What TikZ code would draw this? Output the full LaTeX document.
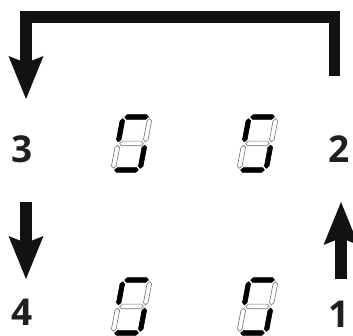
\documentclass[tikz,border=0pt]{standalone}
\usepackage{fontspec}
\setmainfont{Open Sans}
\usetikzlibrary{arrows.meta}
\def\sh{2.3}
\newcommand\hsegment[4]{\path[#1] (#2,#4) -- (#2+\sh,#4+\sh) -- (#3-\sh,#4+\sh) -- (#3,#4) -- (#3-\sh,#4-\sh) -- (#2+\sh,#4-\sh) -- cycle;}
\newcommand\vsegment[4]{\path[#1] (#2,#3) -- (#2+\sh,#3+\sh) -- (#2+\sh,#4-\sh) -- (#2,#4) -- (#2-\sh,#4-\sh) -- (#2-\sh,#3+\sh) -- cycle;}
\newcommand\sevenseg[2]{%
  \begin{scope}[shift={(#1,#2)},xslant=0.19]
    \hsegment{segoff}{1.6}{25.4}{26.5}
    \vsegment{segoff}{27}{28.1}{51.4}
    \vsegment{segoff}{0}{1.6}{24.9}
    \hsegment{segon}{1.6}{25.4}{53}
    \hsegment{segon}{1.6}{25.4}{0}
    \vsegment{segon}{0}{28.1}{51.4}
    \vsegment{segon}{27}{1.6}{24.9}
  \end{scope}}
\tikzset{
  seg/.style={line width=0.6pt, line join=round},
  segon/.style={seg, fill=black, draw=black},
  segoff/.style={seg, fill=white, draw=black!55},
  bigarrow/.style={draw=black!93, line width=11.5pt,
    -{Stealth[length=43pt, width=35pt, inset=7pt, line width=0pt]}},
  numlabel/.style={font=\fontsize{37}{37}\selectfont\bfseries, text=black!88, anchor=base, inner sep=0pt}
}
\begin{document}
\begin{tikzpicture}[x=1pt,y=1pt]
  \useasboundingbox (0,0) rectangle (353,336);
  % labels
  \node[numlabel] (n3) at (22.5,173) {3};
  \node[numlabel] (n2) at (339,173) {2};
  \node[numlabel] (n4) at (22.5,10) {4};
  \node[numlabel] (n1) at (339,8.5) {1};
  % arrow coordinates
  \coordinate (topstart) at (334.5,260);
  \coordinate (toptip) at (26,237);
  \coordinate (ldown0) at (26,134);
  \coordinate (ldown1) at (26,57);
  \coordinate (rup0) at (341,57);
  \coordinate (rup1) at (341,134);
  \draw[bigarrow] (topstart) -- ++(0,59) -| (toptip);
  \draw[bigarrow] (ldown0) -- (ldown1);
  \draw[bigarrow] (rup0) -- (rup1);
  % seven segment digits
  \sevenseg{113}{166}
  \sevenseg{239}{166}
  \sevenseg{113}{3}
  \sevenseg{239}{3}
\end{tikzpicture}
\end{document}
